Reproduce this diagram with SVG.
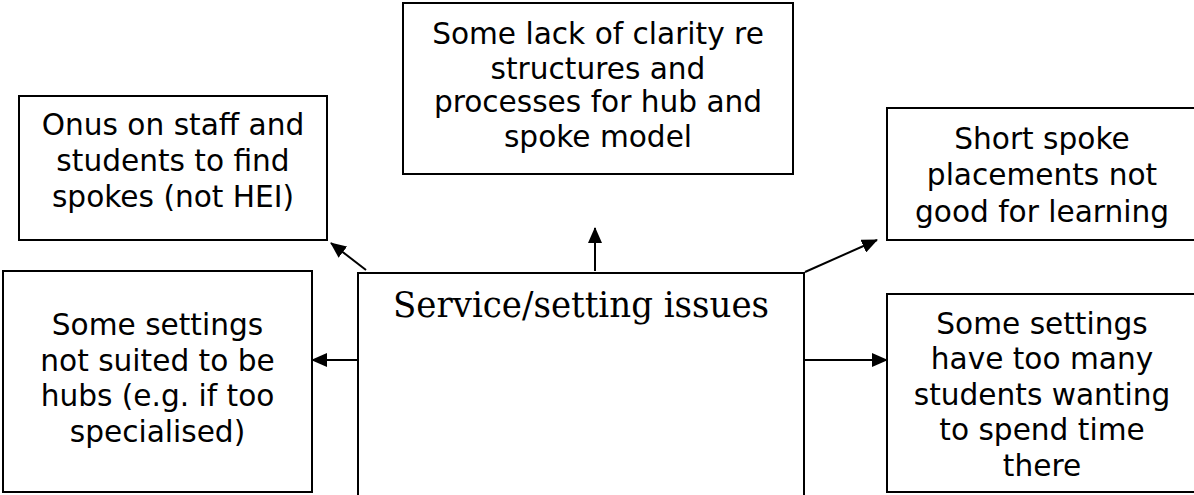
<svg xmlns="http://www.w3.org/2000/svg" width="1194" height="495" viewBox="0 0 1194 495">
<style>
.box{fill:#fff;stroke:#000;stroke-width:2}
.t{font-family:"DejaVu Sans",Verdana,sans-serif;font-size:29.6px;fill:#000;text-anchor:middle}
.h{font-family:"DejaVu Serif","Liberation Serif",serif;font-size:35px;fill:#000;text-anchor:middle}
.c{stroke:#000;stroke-width:2;fill:none;marker-end:url(#ah)}
</style>
<defs>
<marker id="ah" markerUnits="userSpaceOnUse" markerWidth="16" markerHeight="14" refX="15" refY="7" orient="auto">
<path d="M0,0 L16,7 L0,14 Z" fill="#000"/>
</marker>
</defs>
<g id="connectors">
<line class="c" x1="366" y1="270" x2="331" y2="243"/>
<line class="c" x1="595" y1="271" x2="595" y2="228"/>
<line class="c" x1="805" y1="272" x2="877" y2="240"/>
<line class="c" x1="364" y1="360" x2="312" y2="360"/>
<line class="c" x1="804" y1="360" x2="887" y2="360"/>
</g>
<g id="center">
<rect class="box" x="358" y="273" width="446" height="240"/>
<text class="h" x="581" y="317" textLength="376" lengthAdjust="spacingAndGlyphs">Service/setting issues</text>
</g>
<g id="top">
<rect class="box" x="403" y="3" width="390" height="171"/>
<text class="t" x="598" y="43.5">Some lack of clarity re</text>
<text class="t" x="598" y="79">structures and</text>
<text class="t" x="598" y="112">processes for hub and</text>
<text class="t" x="598" y="147">spoke model</text>
</g>
<g id="topleft">
<rect class="box" x="19" y="96" width="308" height="144"/>
<text class="t" x="173" y="135">Onus on staff and</text>
<text class="t" x="173" y="171">students to find</text>
<text class="t" x="173" y="207">spokes (not HEI)</text>
</g>
<g id="topright">
<rect class="box" x="887" y="108" width="320" height="132"/>
<text class="t" x="1042" y="148.5">Short spoke</text>
<text class="t" x="1042" y="185">placements not</text>
<text class="t" x="1042" y="221.5">good for learning</text>
</g>
<g id="bottomleft">
<rect class="box" x="3" y="271" width="309" height="221"/>
<text class="t" x="157.5" y="335">Some settings</text>
<text class="t" x="157.5" y="370.5">not suited to be</text>
<text class="t" x="157.5" y="406">hubs (e.g. if too</text>
<text class="t" x="157.5" y="441.5">specialised)</text>
</g>
<g id="bottomright">
<rect class="box" x="887" y="294" width="320" height="198"/>
<text class="t" x="1042" y="333.5">Some settings</text>
<text class="t" x="1042" y="369">have too many</text>
<text class="t" x="1042" y="404.5">students wanting</text>
<text class="t" x="1042" y="440">to spend time</text>
<text class="t" x="1042" y="475.5">there</text>
</g>
</svg>
